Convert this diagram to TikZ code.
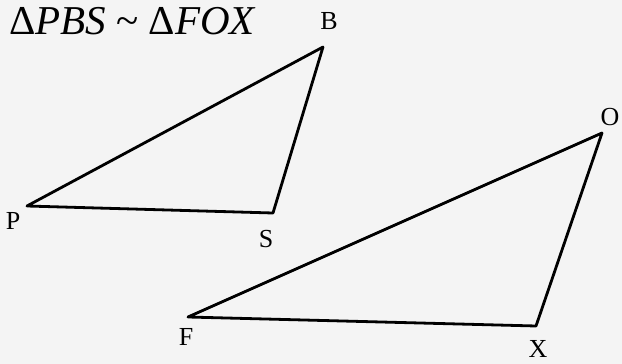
\documentclass[tikz,border=0pt]{standalone}
\usepackage{fontspec}
\setmainfont{Liberation Serif}
\definecolor{bg}{RGB}{244,244,244}
\begin{document}
\begin{tikzpicture}[x=1pt,y=-1pt,
  edge/.style={line width=2.8pt,line join=round,line cap=round},
  vlabel/.style={font=\fontsize{26}{28}\selectfont,inner sep=0pt}]
\fill[bg] (0,0) rectangle (622,364);
\useasboundingbox (0,0) rectangle (622,364);
\node[anchor=west,inner sep=0pt,font=\fontsize{41}{43}\selectfont] (title) at (9,21) {Δ\textit{PBS} \textasciitilde{} Δ\textit{FOX}};
\coordinate (P) at (27,206);
\coordinate (B) at (323,47);
\coordinate (S) at (273,213);
\coordinate (F) at (188,317);
\coordinate (O) at (602,133);
\coordinate (X) at (536,326);
\draw[edge] (P) -- (B) -- (S) -- cycle;
\draw[edge] (F) -- (O) -- (X) -- cycle;
\node[vlabel] (lB) at (329,21) {B};
\node[vlabel] (lP) at (13,221) {P};
\node[vlabel] (lS) at (266,239) {S};
\node[vlabel] (lF) at (186,337) {F};
\node[vlabel] (lO) at (610,117) {O};
\node[vlabel] (lX) at (538,349) {X};
\end{tikzpicture}
\end{document}
